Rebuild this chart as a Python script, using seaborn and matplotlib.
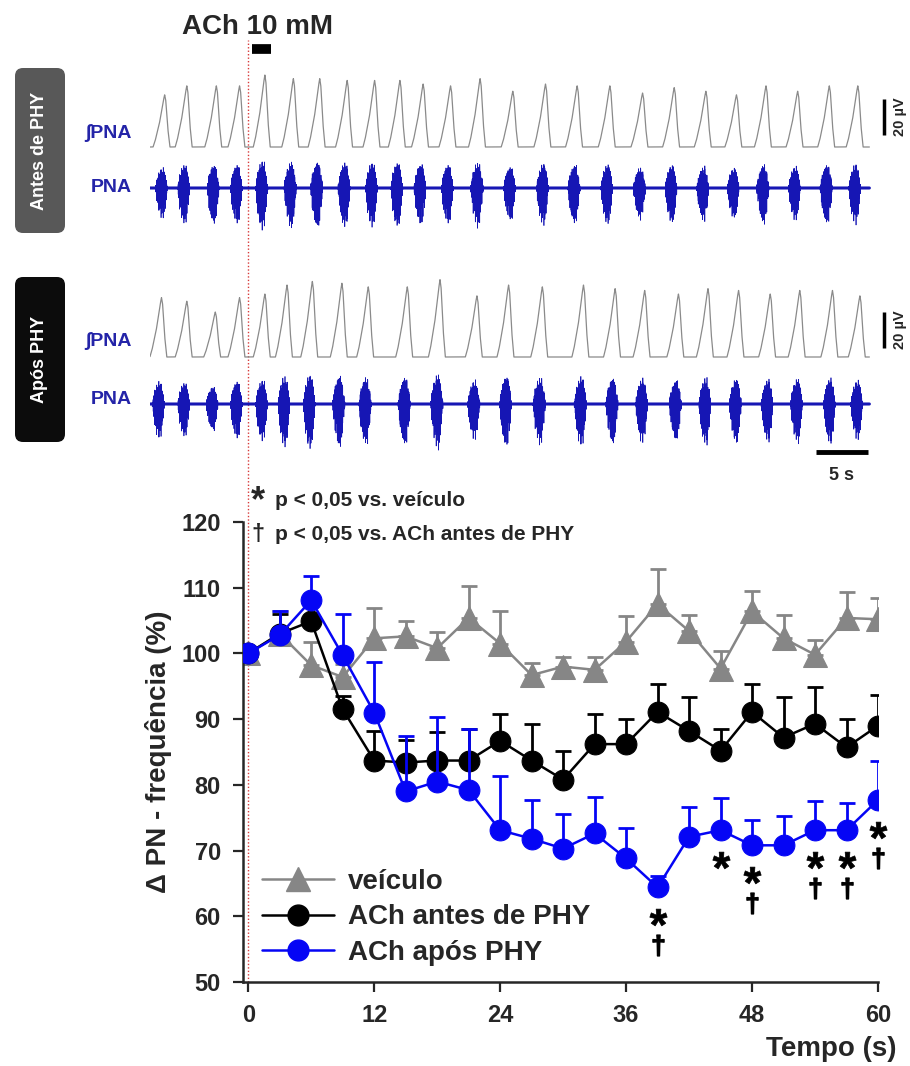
import numpy as np
import pandas as pd
import matplotlib
matplotlib.use("Agg")
import matplotlib.pyplot as plt
import seaborn as sns
from matplotlib.patches import FancyBboxPatch
from matplotlib.lines import Line2D
from matplotlib.textpath import TextPath
from matplotlib.font_manager import FontProperties
from matplotlib.path import Path
from matplotlib.transforms import offset_copy

# ---------------- data ----------------
time_s = [0, 3, 6, 9, 12, 15, 18, 21, 24, 27, 30, 33, 36, 39, 42, 45, 48, 51, 54, 57, 60]

veiculo = [100, 103, 98.2, 96.4, 102.3, 102.6, 100.8, 105.4, 101.5, 96.7, 98.0,
           97.5, 101.8, 107.5, 103.4, 97.7, 106.4, 102.3, 99.8, 105.4, 105.2]
veiculo_sem = [0, 3.5, 3.6, 2.0, 4.6, 2.3, 2.5, 4.9, 4.9, 1.8, 1.5,
               2.0, 3.9, 5.4, 2.5, 2.6, 3.1, 3.6, 2.3, 3.9, 3.3]

ach_antes = [100, 103, 104.9, 91.5, 83.7, 83.4, 83.7, 83.7, 86.7, 83.7, 80.8,
             86.2, 86.2, 91.1, 88.2, 85.2, 91.1, 87.2, 89.3, 85.7, 89.0]
ach_antes_sem = [0, 3.0, 3.0, 2.0, 4.5, 3.5, 4.3, 4.8, 4.1, 5.5, 4.3,
                 4.6, 3.8, 4.3, 5.2, 3.3, 4.3, 6.2, 5.6, 4.3, 4.6]

ach_apos = [100, 102.8, 108.1, 99.7, 91.0, 79.0, 80.5, 79.2, 73.1, 71.8, 70.3,
            72.6, 68.8, 64.4, 72.1, 73.1, 70.8, 70.8, 73.1, 73.1, 77.7]
ach_apos_sem = [0, 3.6, 3.7, 6.3, 7.7, 8.4, 9.8, 9.3, 8.2, 5.9, 5.3,
                5.6, 4.6, 1.8, 4.6, 4.9, 3.8, 4.4, 4.4, 4.1, 5.9]

sig_vs_veiculo = [39, 45, 48, 54, 57, 60]      # '*'
sig_vs_antes = [39, 48, 54, 57, 60]            # '†'

y_ticks = [50, 60, 70, 80, 90, 100, 110, 120]
x_ticks = [0, 12, 24, 36, 48, 60]

# nerve recording: burst peak times (s) and integrated amplitudes (µV)
burst_t_antes = [-7.9, -5.8, -3.0, -0.8, 1.6, 4.3, 6.8, 9.4, 12.0, 14.4, 16.6, 19.2,
                 22.0, 25.1, 28.2, 31.2, 34.3, 37.4, 40.4, 43.4, 46.3, 49.1, 52.1, 55.1, 57.8]
burst_a_antes = [29, 34, 34, 34, 40, 38, 38, 37, 37, 37, 35, 34,
                 38, 31, 35, 34, 34, 30, 33, 31, 29, 34, 31, 34, 34]
burst_t_apos = [-8.2, -5.8, -3.1, -0.8, 1.6, 3.7, 6.1, 8.9, 11.4, 15.1, 18.2, 21.7,
                24.7, 27.9, 31.8, 34.8, 37.6, 40.8, 43.6, 46.5, 49.5, 52.3, 55.4, 58.0]
burst_a_apos = [33, 31, 25, 33, 35, 40, 42, 41, 39, 39, 43, 34,
                40, 39, 40, 38, 37, 35, 38, 37, 35, 37, 37, 34]

# ---------------- style ----------------
sns.set_style("ticks")
plt.rcParams["font.family"] = ["Liberation Sans", "DejaVu Sans"]
plt.rcParams["font.weight"] = "bold"
plt.rcParams["axes.labelweight"] = "bold"

W, H = 910, 1066
fig = plt.figure(figsize=(W / 100, H / 100), dpi=100)


def fr(x0, y0, x1, y1):
    return [x0 / W, 1 - y1 / H, (x1 - x0) / W, (y1 - y0) / H]


def glyph_marker(ch):
    tp = TextPath((0, 0), ch, size=10,
                  prop=FontProperties(family="Liberation Sans", weight="bold"))
    ext = tp.get_extents()
    c = np.array([(ext.x0 + ext.x1) / 2, (ext.y0 + ext.y1) / 2])
    v = tp.vertices.copy()
    v[tp.codes == Path.CLOSEPOLY] = c
    return Path(v - c, tp.codes)


C_GRAY = "#868686"
C_BLACK = "#000000"
C_BLUE = "#0505f5"
C_RAW = "#1616b4"

# ---------------- chart ----------------
ax = fig.add_axes(fr(243, 522, 878, 982))
series = [
    ("veículo", veiculo, veiculo_sem, C_GRAY, "^", 2),
    ("ACh antes de PHY", ach_antes, ach_antes_sem, C_BLACK, "o", 3),
    ("ACh após PHY", ach_apos, ach_apos_sem, C_BLUE, "o", 4),
]
handles = []
for name, vals, sem, col, mk, z in series:
    df = pd.DataFrame({"t": time_s, "v": vals})
    ax.errorbar(time_s, vals, yerr=[np.zeros(len(sem)), sem], fmt="none",
                ecolor=col, elinewidth=2, capsize=6, capthick=2, zorder=z)
    sns.lineplot(data=df, x="t", y="v", ax=ax, color=col, marker=mk,
                 markersize=15 if mk == "o" else 17, markeredgecolor=col,
                 linewidth=1.8, zorder=z + 0.5)
    handles.append(Line2D([0], [0], color=col, marker=mk, lw=1.8,
                          markersize=15 if mk == "o" else 17, markeredgecolor=col))

ax.set_xlim(-0.5, 60)
ax.set_ylim(50, 120)
ax.set_xticks(x_ticks)
ax.set_yticks(y_ticks)
ax.set_xlabel("")
ax.set_ylabel("")
ax.tick_params(axis="both", direction="out", length=7, width=1.6, labelsize=17, pad=9)
for lab in ax.get_xticklabels() + ax.get_yticklabels():
    lab.set_fontweight("bold")
sns.despine(ax=ax)
for sp in ("left", "bottom"):
    ax.spines[sp].set_linewidth(1.8)

# t = 0 marker (red dotted) through the whole figure
ax.axvline(0, ymin=0, ymax=(982 - 40) / 460, color="#d83a3a", lw=1.0,
           ls=(0, (1, 1.5)), clip_on=False, zorder=1)

# significance symbols (glyph markers placed below the blue points)
apos_map = dict(zip(time_s, ach_apos))
star_tr = offset_copy(ax.transData, fig=fig, y=-30 * 0.72, units="points")
dag_tr = offset_copy(ax.transData, fig=fig, y=-58 * 0.72, units="points")
ax.plot(sig_vs_veiculo, [apos_map[t] for t in sig_vs_veiculo], ls="none",
        marker=glyph_marker("*"), ms=12.5, color="k", mew=0.5, transform=star_tr,
        clip_on=False, zorder=6)
ax.plot(sig_vs_antes, [apos_map[t] for t in sig_vs_antes], ls="none",
        marker=glyph_marker("†"), ms=15, color="k", mew=1.0, transform=dag_tr,
        clip_on=False, zorder=6)

leg = ax.legend(handles, [s[0] for s in series], loc="lower left",
                bbox_to_anchor=(-0.01, -0.02), frameon=False, handlelength=2.6,
                handletextpad=0.5, labelspacing=0.35,
                prop={"size": 20, "weight": "bold"})

fig.text(897 / W, 1 - 1049 / H, "Tempo (s)", ha="right", va="center",
         fontsize=20, fontweight="bold")
fig.text(158 / W, 1 - 752 / H, "Δ PN - frequência (%)", ha="center", va="center",
         rotation=90, fontsize=20, fontweight="bold")
fig.text(258 / W, 1 - 502 / H, "*", ha="center", va="center", fontsize=26, fontweight="bold")
fig.text(275 / W, 1 - 500 / H, "p < 0,05 vs. veículo", ha="left", va="center",
         fontsize=15, fontweight="bold")
fig.text(258 / W, 1 - 535 / H, "†", ha="center", va="center", fontsize=17, fontweight="bold")
fig.text(275 / W, 1 - 535 / H, "p < 0,05 vs. ACh antes de PHY", ha="left", va="center",
         fontsize=15, fontweight="bold")

# ---------------- nerve traces ----------------
deco = fig.add_axes([0, 0, 1, 1])
deco.set_xlim(0, W)
deco.set_ylim(H, 0)
deco.axis("off")
deco.patch.set_visible(False)

px_per_s = 10.55
t_left = (150 - 248) / px_per_s
t_right = (875 - 248) / px_per_s
px_per_uv = 1.8

int_tpl_t = [-1.1, -0.9, -0.5, -0.2, -0.04, 0.0, 0.1, 0.3, 0.5]
int_tpl_v = [0, 0.12, 0.45, 0.8, 0.97, 1.0, 0.9, 0.35, 0]
env_tpl_t = [-0.9, -0.7, -0.4, -0.1, 0.1, 0.3]
env_tpl_v = [0, 0.55, 0.9, 1.0, 0.6, 0]

tt = np.arange(t_left, 58.9, 0.004)
texture = np.sin(2 * np.pi * 113 * tt) * (0.55 + 0.45 * np.sin(2 * np.pi * 9.7 * tt + 1.3))
texture = np.where(texture > 0, 0.65 * texture, texture)


def draw_trace(top_px, base_int_px, base_raw_px, bt, ba, bar_lo):
    tax = fig.add_axes(fr(150, top_px, 875, top_px + 185))
    y_top = (base_int_px - top_px) / px_per_uv
    y_bot = (base_int_px - top_px - 185) / px_per_uv
    tax.set_xlim(t_left, t_right)
    tax.set_ylim(y_bot, y_top)
    tax.axis("off")
    raw_base = -(base_raw_px - base_int_px) / px_per_uv
    integ = np.zeros_like(tt)
    raw = np.zeros_like(tt)
    for tp, a in zip(bt, ba):
        integ += a * np.interp(tt - tp, int_tpl_t, int_tpl_v, left=0, right=0)
        raw += 0.62 * a * np.interp(tt - tp, env_tpl_t, env_tpl_v, left=0, right=0)
    tax.plot(tt, integ, color="#8a8a8a", lw=0.9)
    tax.plot(tt, raw_base + raw * texture, color=C_RAW, lw=0.5)
    tax.plot(tt, np.full_like(tt, raw_base), color=C_RAW, lw=2.2)
    # 20 µV scale bar
    tax.plot([60.3, 60.3], [bar_lo, bar_lo + 20], color="k", lw=2.5,
             clip_on=False, solid_capstyle="butt")
    tax.text(61.8, bar_lo + 10, "20 µV", rotation=90, ha="center", va="center",
             fontsize=10.5, fontweight="bold", clip_on=False)
    return tax, raw_base


taxA, rbA = draw_trace(58, 147, 188, burst_t_antes, burst_a_antes, 6.7)
taxB, rbB = draw_trace(268, 357, 404, burst_t_apos, burst_a_apos, 5.0)

# ACh application bar
taxA.plot([0.35, 2.2], [(147 - 49) / px_per_uv] * 2, color="k", lw=7,
          solid_capstyle="butt", clip_on=False)
fig.text(258 / W, 1 - 27 / H, "ACh 10 mM", ha="center", va="center",
         fontsize=20, fontweight="bold")
# 5 s bar
taxB.plot([53.8, 58.8], [(357 - 452) / px_per_uv] * 2, color="k", lw=3.5,
          solid_capstyle="butt", clip_on=False)
taxB.text(56.3, (357 - 476) / px_per_uv, "5 s", ha="center", va="center",
          fontsize=13, fontweight="bold", clip_on=False)

# condition boxes and trace labels
for (y0, y1, fc, label, yint, yraw) in [(68, 233, "#585858", "Antes de PHY", 133, 188),
                                         (277, 442, "#0c0c0c", "Após PHY", 341, 400)]:
    deco.add_patch(FancyBboxPatch((15, y0), 50, y1 - y0,
                                  boxstyle="round,pad=0,rounding_size=8",
                                  fc=fc, ec="none"))
    deco.text(40, (y0 + y1) / 2, label, rotation=90, ha="center", va="center",
              color="white", fontsize=13, fontweight="bold")
    deco.text(132, yint, "∫PNA", ha="right", va="center", color="#2424a8",
              fontsize=14, fontweight="bold")
    deco.text(132, yraw, "PNA", ha="right", va="center", color="#2424a8",
              fontsize=14, fontweight="bold")

fig.savefig("out.png", dpi=100, facecolor="white")
